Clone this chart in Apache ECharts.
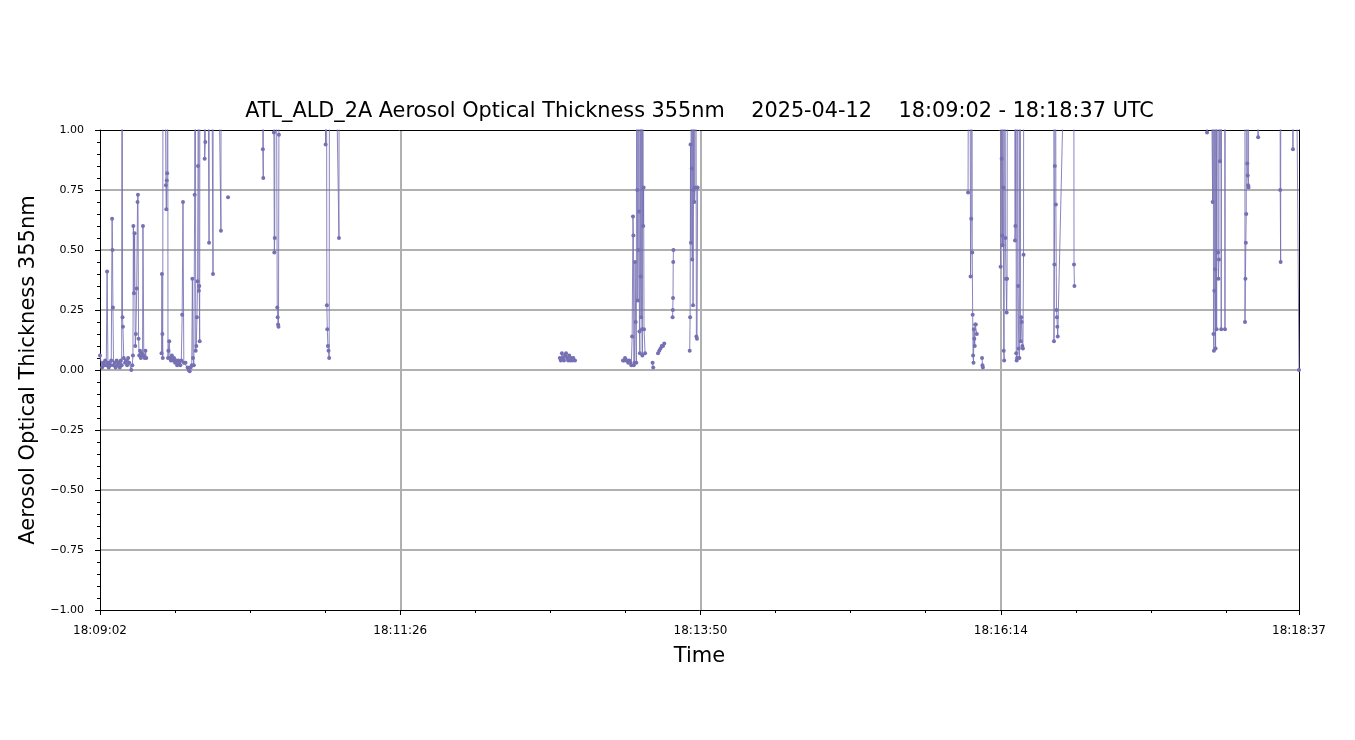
<!DOCTYPE html>
<html>
<head>
<meta charset="utf-8">
<script src="https://cdn.jsdelivr.net/npm/echarts@6/dist/echarts.min.js"></script>
<style>
html,body{margin:0;padding:0;background:#fff;}
#chart{width:1355px;height:740px;}
</style>
</head>
<body>
<div id="chart"></div>
<script>
// Seconds after 18:09:02 UTC
const startClock = 18 * 3600 + 9 * 60 + 2;
const xTickStep = 144;
const xMax = 575;
const yTicks = [-1, -0.75, -0.5, -0.25, 0, 0.25, 0.5, 0.75, 1];

// Time offsets (s) and AOT at 355 nm; null = no data (gap); values > 1 lie above the plotted range
const times = [
  0, 1.0, 1.5, 2.0, 2.5, 3.0, 3.4, 3.8, 4.2, 4.6, 5.0, 5.4, 5.8, 6.0, 6.2, 6.5, 7.0, 7.5, 8.0, 8.5,
  9.0, 9.5, 10.0, 10.4, 10.6, 10.8, 11.0, 11.4, 12.0, 12.5, 13.0, 13.5, 14.0, 15.0, 15.5, 15.8, 16.0, 16.3, 16.6, 16.9,
  17.2, 17.6, 18.0, 18.2, 18.5, 18.8, 19.2, 19.6, 20.0, 20.4, 20.6, 21.0, 21.4, 21.8, 22.2, 25.0,
  29.5, 29.7, 29.9, 30.1, 30.3, 31.6, 31.8, 32.0, 32.2, 32.4, 32.6, 32.8, 33.2, 33.6, 34.0, 34.5, 35.0, 35.5, 36.0, 36.5,
  37.0, 37.5, 38.0, 38.5, 39.0, 39.4, 39.8, 40.2, 41.0, 42.0, 42.5, 43.0, 43.5, 44.0, 44.3, 44.6, 45.0, 45.4, 45.6, 45.9,
  46.2, 46.5, 46.8, 47.0, 47.2, 47.4, 47.6, 47.8, 48.0, 50.2, 50.5, 50.8, 52.3, 52.6, 54.2, 54.4, 58.0, 58.2, 60.0,
  61.4, 62.0,
  77.9, 78.1, 78.3, 78.5, 83.2, 83.4, 83.6, 83.8, 84.0, 85.0, 85.2, 85.4, 85.6, 85.8, 86.0,
  108.0, 108.2, 108.4, 108.8, 109.0, 109.3, 109.6, 109.9, 110.2, 114.6, 114.8, 116.0,
  220.5, 221.0, 221.5, 222.0, 222.5, 223.0, 223.5, 224.0, 224.5, 225.0, 225.5, 226.0, 226.5, 227.0, 227.8, 230.0,
  250.8, 251.3, 251.8, 252.3, 252.8, 253.3, 253.8, 254.3, 254.8, 255.2, 255.6, 255.8, 256.0, 256.3, 256.6, 256.9, 257.2, 257.5,
  257.7, 257.9, 258.1, 258.3, 258.5, 258.7, 258.9, 259.1, 259.3, 259.5, 259.7, 259.9, 260.1, 260.3, 260.5, 260.7, 260.9, 261.4, 263.0,
  265.0, 265.3, 266.5,
  267.6, 268.2, 268.8, 269.4, 270.0, 270.6, 272.5,
  274.6, 274.7, 274.8, 274.9, 275.0, 277.0,
  282.8, 283.0, 283.2, 283.4, 283.6, 283.8, 284.0, 284.2, 284.4, 284.6, 284.8, 285.0, 285.3, 285.6, 286.0, 286.3, 286.6, 290.0,
  416.3, 416.8, 417.5, 417.8, 418.0, 418.3, 418.5, 418.7, 418.9, 419.1, 419.3, 419.5, 419.7, 420.0, 420.5, 421.5,
  423.0, 423.2, 423.4, 428.0,
  431.9, 432.1, 432.4, 432.6, 432.8, 433.0, 433.2, 433.4, 433.6, 433.8, 434.2, 434.5, 434.8, 435.0, 435.3,
  438.5, 438.8, 439.0, 439.2, 439.4, 439.6, 439.8, 440.0, 440.3, 440.6, 440.9, 441.2, 441.5, 441.8, 442.0, 442.3, 442.6, 442.9, 443.1,
  457.3, 457.5, 457.7, 457.9, 458.1, 458.4, 458.7, 458.9, 459.1, 459.3, 466.9, 467.1, 467.3, 470.0,
  530.7, 530.9, 531.1, 533.6, 533.8, 534.0, 534.2, 534.4, 534.6, 534.8, 535.0, 535.2, 535.5, 535.8, 536.2, 536.4, 536.6, 536.8,
  537.1, 537.4, 537.7, 538.0, 539.3, 539.5, 539.7,
  549.0, 549.1, 549.3, 549.5, 549.7, 549.9, 550.2, 550.4, 550.6, 550.8, 551.0, 555.4, 555.6,
  565.8, 566.0, 566.2, 566.4, 572.0, 572.1, 572.3, 575.0
];
const aot = [
  0.06, 0.01, 0.03, 0.02, 0.04, 0.02, 0.41, 0.03, 0.01, 0.03, 0.02, 0.04, 0.63, 0.50, 0.26, 0.02, 0.03, 0.01, 0.04, 0.02,
  0.03, 0.01, 0.04, 0.02, 3.0, 0.22, 0.18, 0.05, 0.03, 0.04, 0.02, 0.05, 0.03, 0.00, 0.02, 0.06, 0.60, 0.32, 0.57, 0.10,
  0.15, 0.34, 0.70, 0.73, 0.13, 0.06, 0.08, 0.05, 0.07, 0.06, 0.60, 0.06, 0.05, 0.08, 0.05, null,
  0.07, 0.40, 0.15, 0.05, 3.0, 0.77, 0.67, 0.79, 0.82, 3.0, 0.05, 0.08, 0.12, 0.05, 0.04, 0.06, 0.04, 0.05, 0.03, 0.04,
  0.02, 0.04, 0.03, 0.02, 0.04, 0.23, 0.70, 0.03, 0.03, 0.01, 0.00, -0.005, 0.01, 0.02, 0.38, 0.05, 0.02, 0.73, 3.0, 0.08,
  0.10, 0.22, 0.37, 0.85, 3.0, 0.33, 0.35, 0.12, 3.0, 0.88, 0.95, 3.0, 0.53, 3.0, 0.40, 3.0, 0.58, 3.0, null,
  0.72, null,
  3.0, 0.92, 0.80, 3.0, 3.0, 0.99, 0.49, 0.55, 3.0, 0.26, 0.22, 0.19, 0.18, 0.98, 3.0,
  3.0, 0.94, 3.0, 0.27, 0.17, 0.10, 0.08, 0.05, 3.0, 0.55, 3.0, null,
  0.05, 0.04, 0.07, 0.05, 0.04, 0.06, 0.07, 0.05, 0.04, 0.06, 0.04, 0.05, 0.04, 0.05, 0.04, null,
  0.04, 0.04, 0.05, 0.04, 0.04, 0.03, 0.04, 0.03, 0.02, 0.14, 0.64, 0.56, 0.02, 0.03, 0.45, 0.20, 0.03, 3.0,
  0.75, 0.29, 0.50, 3.0, 0.66, 0.16, 0.07, 3.0, 0.39, 0.22, 3.0, 0.17, 0.06, 3.0, 0.60, 0.76, 0.17, 0.07, null,
  0.03, 0.01, null,
  0.07, 0.08, 0.09, 0.10, 0.10, 0.11, null,
  0.22, 0.25, 0.30, 0.45, 0.50, null,
  0.08, 0.22, 0.94, 0.53, 3.0, 0.84, 0.46, 3.0, 0.27, 0.75, 3.0, 0.70, 0.76, 3.0, 0.14, 0.13, 0.76, null,
  0.74, 3.0, 0.39, 0.63, 3.0, 0.49, 0.23, 0.06, 0.03, 0.17, 0.13, 0.10, 0.19, 0.19, 0.15, null,
  0.05, 0.02, 0.01, null,
  0.43, 3.0, 0.88, 0.56, 0.52, 3.0, 0.76, 0.08, 0.04, 3.0, 0.55, 0.38, 0.24, 0.38, 3.0,
  3.0, 0.54, 0.60, 3.0, 0.07, 0.04, 0.05, 3.0, 0.35, 0.09, 0.05, 3.0, 0.12, 0.22, 0.20, 0.10, 0.09, 0.48, 3.0,
  3.0, 0.12, 0.44, 0.85, 3.0, 0.69, 0.25, 0.22, 0.18, 0.14, 3.0, 0.44, 0.35, null,
  3.0, 0.99, 3.0, 0.70, 3.0, 0.15, 0.08, 0.33, 3.0, 0.42, 0.09, 3.0, 0.17, 3.0, 0.49, 0.38, 0.46, 3.0,
  0.87, 3.0, 0.17, 3.0, 3.0, 0.17, 3.0,
  3.0, 0.20, 0.38, 0.53, 0.65, 3.0, 0.86, 0.81, 0.77, 0.76, 3.0, 0.97, 3.0,
  3.0, 0.75, 0.45, 3.0, 3.0, 0.92, 3.0, 0.00
];

function clock(v) {
  const t = Math.round(startClock + v);
  const h = Math.floor(t / 3600), m = Math.floor((t % 3600) / 60), s = t % 60;
  const p = n => String(n).padStart(2, '0');
  return p(h) + ':' + p(m) + ':' + p(s);
}

const seriesData = times.map((t, i) => [t, aot[i]]);
const color = '#7570b3';
const font = 'DejaVu Sans';

const chart = echarts.init(document.getElementById('chart'), null, { renderer: 'canvas' });
chart.setOption({
  animation: false,
  backgroundColor: '#ffffff',
  title: {
    text: 'ATL_ALD_2A Aerosol Optical Thickness 355nm    2025-04-12    18:09:02 - 18:18:37 UTC',
    left: 699.5,
    textAlign: 'center',
    top: 101,
    padding: 0,
    textStyle: { fontFamily: font, fontSize: 20.8, fontWeight: 'normal', color: '#000' }
  },
  grid: { left: 100, right: 56, top: 130, bottom: 130, show: false },
  xAxis: [{
    type: 'value',
    min: 0, max: xMax, interval: xTickStep,
    name: 'Time', nameLocation: 'middle', nameGap: 36,
    nameTextStyle: { fontFamily: font, fontSize: 21, color: '#000' },
    axisLine: { show: true, onZero: false, lineStyle: { color: '#000', width: 1 } },
    axisTick: { show: true, length: 5, lineStyle: { color: '#000' } },
    minorTick: { show: true, splitNumber: 4, length: 3, lineStyle: { color: '#000' } },
    axisLabel: { formatter: clock, fontFamily: font, fontSize: 12, color: '#000', margin: 15, showMinLabel: true, showMaxLabel: true },
    splitLine: { show: true, showMinLine: false, showMaxLine: false, lineStyle: { color: '#b0b0b0', width: 2 } }
  }, {
    type: 'value', position: 'top', min: 0, max: xMax,
    axisLine: { show: true, onZero: false, lineStyle: { color: '#000', width: 1 } },
    axisTick: { show: false }, axisLabel: { show: false }, splitLine: { show: false }
  }],
  yAxis: [{
    type: 'value',
    min: yTicks[0], max: yTicks[yTicks.length - 1], interval: 0.25,
    name: 'Aerosol Optical Thickness 355nm', nameLocation: 'middle', nameGap: 60,
    nameTextStyle: { fontFamily: font, fontSize: 21, color: '#000' },
    axisLine: { show: true, onZero: false, lineStyle: { color: '#000', width: 1 } },
    axisTick: { show: true, length: 5, lineStyle: { color: '#000' } },
    minorTick: { show: true, splitNumber: 5, length: 3, lineStyle: { color: '#000' } },
    axisLabel: {
      formatter: v => v.toFixed(2).replace('-', '\u2212'),
      fontFamily: font, fontSize: 11, color: '#000', margin: 16
    },
    splitLine: { show: true, showMinLine: false, showMaxLine: false, lineStyle: { color: '#b0b0b0', width: 2 } }
  }, {
    type: 'value', position: 'right', min: -1, max: 1,
    axisLine: { show: true, onZero: false, lineStyle: { color: '#000', width: 1 } },
    axisTick: { show: false }, axisLabel: { show: false }, splitLine: { show: false }
  }],
  series: [{
    type: 'line',
    data: seriesData,
    xAxisIndex: 0, yAxisIndex: 0,
    clip: true,
    connectNulls: false,
    showSymbol: true,
    showAllSymbol: true,
    symbol: 'circle',
    symbolSize: 4,
    itemStyle: { color: color },
    lineStyle: { color: color, width: 1, opacity: 0.85 },
    z: 5
  }]
});
</script>
</body>
</html>
